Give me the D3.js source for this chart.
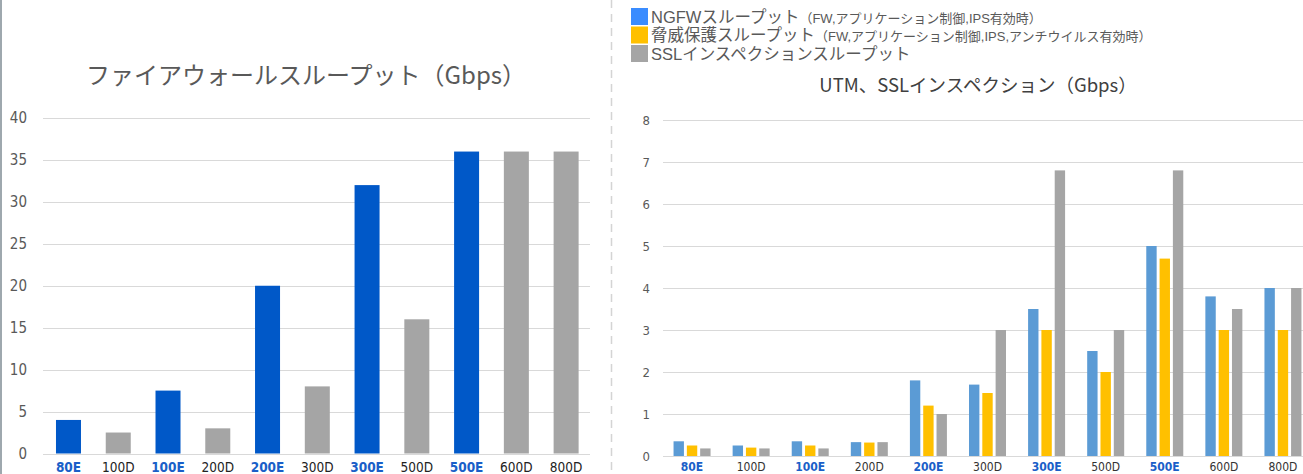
<!DOCTYPE html>
<html>
<head>
<meta charset="utf-8">
<script src="https://cdn.jsdelivr.net/npm/d3@7"></script>
<style>
  body { margin: 0; background: #fff; }
  svg { display: block; font-family: "Noto Sans CJK JP", "Noto Sans", sans-serif; }
</style>
</head>
<body>
<svg id="chart" width="1303" height="474"></svg>
<script>
// models (E = blue bold label)
const models = ["80E", "100D", "100E", "200D", "200E", "300D", "300E", "500D", "500E", "600D", "800D"];

// left chart: firewall throughput (Gbps)
const fwThroughput = [4, 2.5, 7.5, 3, 20, 8, 32, 16, 36, 36, 36];
const fwTicks = [0, 5, 10, 15, 20, 25, 30, 35, 40];

// right chart: three series
const seriesNames = ["NGFW", "threat", "ssl"];
const ngfw   = [0.35, 0.25, 0.35, 0.33, 1.8, 1.7, 3.5, 2.5, 5.0, 3.8, 4.0];
const threat = [0.25, 0.2, 0.25, 0.32, 1.2, 1.5, 3.0, 2.0, 4.7, 3.0, 3.0];
const ssl    = [0.18, 0.18, 0.18, 0.33, 1.0, 3.0, 6.8, 3.0, 6.8, 3.5, 4.0];
const utmTicks = [0, 1, 2, 3, 4, 5, 6, 7, 8];

const legendMain = ["NGFWスループット", "脅威保護スループット", "SSLインスペクションスループット"];
const legendSub = ["（FW,アプリケーション制御,IPS有効時）", "（FW,アプリケーション制御,IPS,アンチウイルス有効時）", ""];

const BLUE_E = "#0058c8", GRAY = "#a5a5a5";
const seriesColors = ["#5b9bd5", "#ffc000", "#a5a5a5"];
const legendColors = ["#3a8cff", "#ffc000", "#a5a5a5"];
const labelBlue = "#1a5fc8";
const isE = m => m.endsWith("E");

const svg = d3.select("#chart");

// frame bits
svg.append("line").attr("x1", 1).attr("x2", 1).attr("y1", 0).attr("y2", 474)
    .attr("stroke", "#9ea8ae").attr("stroke-width", 2);
svg.append("line").attr("x1", 611.5).attr("x2", 611.5).attr("y1", 0).attr("y2", 474)
    .attr("stroke", "#d4d4d4").attr("stroke-width", 1.5).attr("stroke-dasharray", "8,6");

// ---------- left chart ----------
let xL = d3.scaleBand().domain(models).range([43.6, 591]);
let yL = d3.scaleLinear().domain([0, 40]).range([453.5, 118]);

let left = svg.append("g");
left.selectAll("line.grid").data(fwTicks).enter().append("line")
    .attr("x1", 43).attr("x2", 590)
    .attr("y1", d => Math.round(yL(d)) + 0.5).attr("y2", d => Math.round(yL(d)) + 0.5)
    .attr("stroke", "#d9d9d9");
left.selectAll("text.ytick").data(fwTicks).enter().append("text")
    .attr("x", 27).attr("y", d => yL(d)).attr("dy", "0.35em")
    .attr("text-anchor", "end").attr("fill", "#595959").style("font-size", "15px")
    .style("font-family", "'Liberation Sans Narrow', 'DejaVu Sans Condensed', sans-serif")
    .text(d => d);

left.selectAll("rect").data(models).enter().append("rect")
    .attr("x", d => xL(d) + (xL.bandwidth() - 25) / 2)
    .attr("width", 25)
    .attr("y", (d, i) => yL(fwThroughput[i]))
    .attr("height", (d, i) => yL(0) - yL(fwThroughput[i]))
    .attr("fill", d => isE(d) ? BLUE_E : GRAY);

left.selectAll("text.xtick").data(models).enter().append("text")
    .attr("x", d => xL(d) + xL.bandwidth() / 2).attr("y", 472)
    .attr("text-anchor", "middle").style("font-size", "13.5px")
    .style("font-family", "'DejaVu Sans Condensed', 'DejaVu Sans', sans-serif")
    .style("font-weight", d => isE(d) ? "bold" : "normal")
    .attr("fill", d => isE(d) ? labelBlue : "#222")
    .text(d => d);

left.append("text").attr("x", 306).attr("y", 84).attr("text-anchor", "middle")
    .attr("fill", "#595959").style("font-size", "24px")
    .text("ファイアウォールスループット（Gbps）");

// ---------- right chart ----------
const utmData = models.map((m, i) => ({model: m, vals: [ngfw[i], threat[i], ssl[i]]}));
let x0 = d3.scaleBand().domain(models).range([662.5, 1312.5]);
let x1 = d3.scaleBand().domain(seriesNames).range([0, 37]).paddingInner(0.22);
let yR = d3.scaleLinear().domain([0, 8]).range([456, 120]);

let right = svg.append("g");
right.selectAll("line.grid").data(utmTicks).enter().append("line")
    .attr("x1", 663).attr("x2", 1303)
    .attr("y1", d => Math.round(yR(d)) + 0.5).attr("y2", d => Math.round(yR(d)) + 0.5)
    .attr("stroke", "#d9d9d9");
right.selectAll("text.ytick").data(utmTicks).enter().append("text")
    .attr("x", 650).attr("y", d => yR(d)).attr("dy", "0.35em")
    .attr("text-anchor", "end").attr("fill", "#595959").style("font-size", "13px")
    .style("font-family", "'Liberation Sans Narrow', 'DejaVu Sans Condensed', sans-serif")
    .text(d => d);

let groups = right.selectAll("g.grp").data(utmData).enter().append("g")
    .attr("transform", d => `translate(${x0(d.model) + (x0.bandwidth() - 37) / 2},0)`);
groups.selectAll("rect").data(d => d.vals.map((v, j) => ({key: seriesNames[j], v: v, j: j})))
    .enter().append("rect")
    .attr("x", d => x1(d.key))
    .attr("width", x1.bandwidth())
    .attr("y", d => yR(d.v))
    .attr("height", d => yR(0) - yR(d.v))
    .attr("fill", d => seriesColors[d.j]);

right.selectAll("text.xtick").data(models).enter().append("text")
    .attr("x", d => x0(d) + x0.bandwidth() / 2).attr("y", 471)
    .attr("text-anchor", "middle").style("font-size", "12px")
    .style("font-family", "'DejaVu Sans Condensed', 'DejaVu Sans', sans-serif")
    .style("font-weight", d => isE(d) ? "bold" : "normal")
    .attr("fill", d => isE(d) ? labelBlue : "#333")
    .text(d => d);

right.append("text").attr("x", 978).attr("y", 92).attr("text-anchor", "middle")
    .attr("fill", "#404040").style("font-size", "18.5px")
    .text("UTM、SSLインスペクション（Gbps）");

// legend
let legend = svg.append("g")
    .style("font-family", "'Liberation Sans', 'Noto Sans CJK JP', sans-serif");
let rows = legend.selectAll("g").data(legendMain).enter().append("g")
    .attr("transform", (d, i) => `translate(631,${8 + i * 18.5})`);
rows.append("rect").attr("width", 17).attr("height", 17)
    .attr("fill", (d, i) => legendColors[i]);
let lt = rows.append("text").attr("x", 20).attr("y", 14.5).attr("fill", "#595959");
lt.append("tspan").style("font-size", "16.5px").text(d => d);
lt.append("tspan").style("font-size", "13px").text((d, i) => legendSub[i]);
</script>
</body>
</html>
